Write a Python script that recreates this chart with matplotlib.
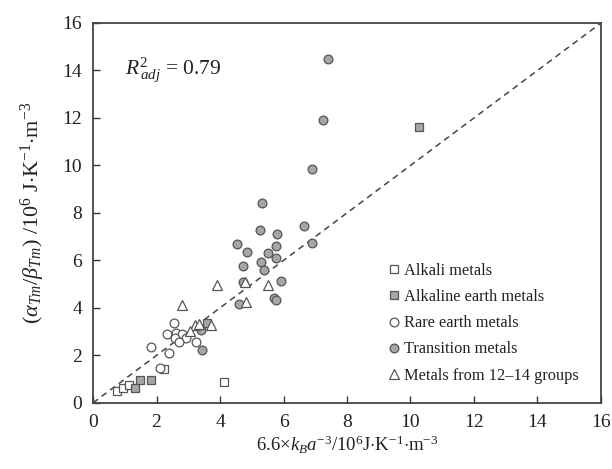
import matplotlib
matplotlib.use("Agg")
import matplotlib.pyplot as plt

plt.rcParams['font.family'] = ['Liberation Serif', 'DejaVu Serif']
plt.rcParams['mathtext.fontset'] = 'custom'
plt.rcParams['mathtext.rm'] = 'Liberation Serif'
plt.rcParams['mathtext.it'] = 'Liberation Serif:italic'
plt.rcParams['mathtext.bf'] = 'Liberation Serif:bold'

# Data
alkali_x = [0.76, 0.95, 1.14, 2.23, 4.11]
alkali_y = [0.52, 0.61, 0.77, 1.43, 0.86]

alkaline_x = [1.32, 1.48, 1.84, 3.58, 10.27]
alkaline_y = [0.62, 0.95, 0.95, 3.36, 11.62]

rare_x = [2.54, 2.34, 2.60, 2.81, 2.57, 2.92, 2.71, 3.25, 1.84, 2.38, 2.10]
rare_y = [3.35, 2.91, 2.94, 2.92, 2.72, 2.72, 2.57, 2.57, 2.35, 2.09, 1.48]

trans_x = [5.33, 5.27, 5.79, 6.64, 4.55, 5.76, 4.84, 5.52, 6.89, 5.30, 5.76,
           4.72, 5.40, 4.71, 5.91, 5.71, 5.77, 4.59, 7.40, 7.23, 6.91, 3.41, 3.44]
trans_y = [8.40, 7.29, 7.10, 7.45, 6.70, 6.62, 6.36, 6.30, 6.72, 5.95, 6.10,
           5.75, 5.60, 5.10, 5.15, 4.40, 4.32, 4.15, 14.50, 11.90, 9.85, 3.06, 2.21]

grp_x = [3.90, 4.79, 5.50, 4.81, 2.81, 3.20, 3.35, 3.72, 3.06]
grp_y = [4.95, 5.08, 4.95, 4.25, 4.12, 3.30, 3.34, 3.26, 3.03]

x_ticks = [0, 2, 4, 6, 8, 10, 12, 14, 16]
y_ticks = [0, 2, 4, 6, 8, 10, 12, 14, 16]

fig = plt.figure(figsize=(6.12, 4.69), dpi=100)
ax = fig.add_axes([0.152, 0.141, 0.830, 0.810])

edge = '#555555'
gray = '#a6a6a6'
mew = 0.9

ax.plot([0, 16], [0, 16], linestyle=(0, (4, 3)), color='#444444', lw=1.1, zorder=1)

ax.plot(alkali_x, alkali_y, 's', ms=5.3, mfc='white', mec=edge, mew=mew,
        ls='none', label='Alkali metals', zorder=3)
ax.plot(alkaline_x, alkaline_y, 's', ms=5.3, mfc=gray, mec=edge, mew=mew,
        ls='none', label='Alkaline earth metals', zorder=3)
ax.plot(rare_x, rare_y, 'o', ms=6.3, mfc='white', mec=edge, mew=mew,
        ls='none', label='Rare earth metals', zorder=3)
ax.plot(trans_x, trans_y, 'o', ms=6.3, mfc=gray, mec=edge, mew=mew,
        ls='none', label='Transition metals', zorder=3)
ax.plot(grp_x, grp_y, '^', ms=7.3, mfc='white', mec=edge, mew=mew,
        ls='none', label='Metals from 12\u201314 groups', zorder=3)

ax.set_xlim(0, 16)
ax.set_ylim(0, 16)
ax.set_xticks(x_ticks)
ax.set_yticks(y_ticks)
ax.tick_params(direction='in', length=5, width=1.0, labelsize=14,
               colors='#333333', labelcolor='#222222', pad=8)
for s in ax.spines.values():
    s.set_linewidth(1.3)
    s.set_color('#444444')

ax.set_xlabel(r'6.6$\times$$k_B a^{-3}$/10$^{6}$J$\cdot$K$^{-1}$$\cdot$m$^{-3}$',
              fontsize=13.5, color='#222222', labelpad=2)
ax.set_ylabel(r'($\alpha_{Tm}$/$\beta_{Tm}$) /10$^{6}$ J$\cdot$K$^{-1}$$\cdot$m$^{-3}$',
              fontsize=16, color='#222222', labelpad=11)

ax.text(1.0, 14.0, r'$R^{2}_{\,adj}$ = 0.79', fontsize=15.5, color='#222222',
        va='center', ha='left')

leg = ax.legend(loc='lower right', bbox_to_anchor=(0.985, 0.012), frameon=False,
                fontsize=11.8, handletextpad=0.1, labelspacing=0.62,
                handlelength=1.0, borderaxespad=0.5)
for t in leg.get_texts():
    t.set_color('#222222')

fig.savefig('out.png', dpi=100)
